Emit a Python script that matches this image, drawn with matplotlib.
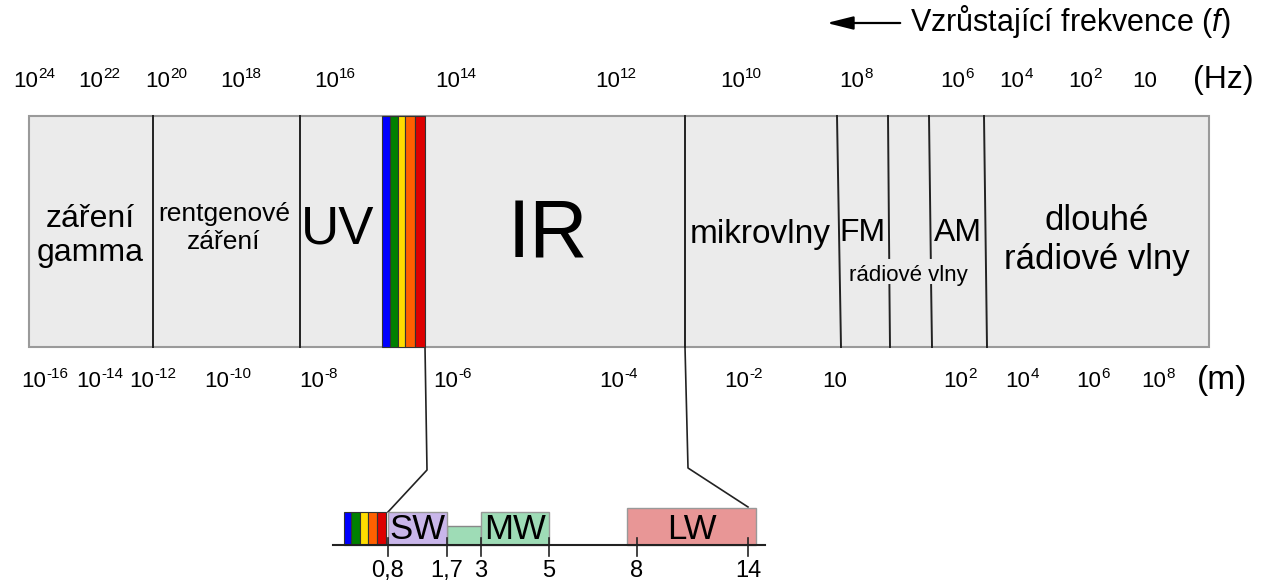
import matplotlib.pyplot as plt
from matplotlib.patches import Rectangle

plt.rcParams['font.family'] = ['Liberation Sans', 'DejaVu Sans']
plt.rcParams['mathtext.fontset'] = 'custom'
plt.rcParams['mathtext.rm'] = 'Liberation Sans'
plt.rcParams['mathtext.it'] = 'Liberation Sans:italic'

# frekvence (Hz) - exponenty a poloha popisku ve schematu
hz_exp = ['24', '22', '20', '18', '16', '14', '12', '10', '8', '6', '4', '2', '']
hz_x = [34, 99, 166, 241, 335, 456, 616, 741, 856, 957, 1016, 1085, 1145]

# vlnova delka (m)
m_exp = ['-16', '-14', '-12', '-10', '-8', '-6', '-4', '-2', '', '2', '4', '6', '8']
m_x = [45, 100, 153, 228, 318, 452, 618, 743, 835, 960, 1022, 1093, 1158]

# hranice oblasti (x nahore, x dole)
borders = [(153, 153), (300, 300), (685, 685), (837, 841), (888, 890), (929, 932), (984, 987)]
broken = [888, 929]   # cary prerusene popiskem "rádiové vlny"

# viditelne svetlo - barevne pruhy
rainbow_colors = ['#0000ff', '#008000', '#ffdd00', '#ff6000', '#dd0000']
rainbow_main = [382, 390, 398, 405, 415, 425]
rainbow_small = [344, 351, 360, 368, 377, 386]

# detail IR (um)
ir_ticks = ['0,8', '1,7', '3', '5', '8', '14']
ir_tick_x = [388, 447, 481, 549, 637, 748]
ir_bands = ['SW', 'MW', 'LW']
ir_band_x = [(388, 447), (481, 549), (627, 756)]
ir_band_colors = ['#c9b6ea', '#9edcb6', '#e89696']

BASE_FS = 16
EXP_FS = 11


def power_label(ax, x, y, exp):
    # "10" + exponent jako dva texty (spojovnik misto minus)
    px = 100 / 72
    w10 = 2 * 0.556 * BASE_FS * px
    wexp = sum(0.333 if ch == '-' else 0.556 for ch in exp) * EXP_FS * px
    left = x - (w10 + wexp) / 2
    ax.text(left, y, '10', fontsize=BASE_FS, ha='left', va='baseline')
    if exp:
        ax.text(left + w10 + 0.5, y - 9, exp, fontsize=EXP_FS, ha='left', va='baseline')


fig = plt.figure(figsize=(12.64, 5.83), dpi=100)
ax = fig.add_axes([0, 0, 1, 1])
ax.set_xlim(0, 1264)
ax.set_ylim(583, 0)
ax.axis('off')

top, bot = 116, 347

# hlavni pas
ax.add_patch(Rectangle((29, top), 1180, bot - top, fc='#ebebeb', ec='#9a9a9a', lw=1.5, zorder=1))

for xt, xb in borders:
    if xt in broken:
        ax.plot([xt, xt + (xb - xt) * 0.6], [top, 258], color='#222222', lw=1.4, zorder=2)
        ax.plot([xt + (xb - xt) * 0.7, xb], [285, bot], color='#222222', lw=1.4, zorder=2)
    else:
        ax.plot([xt, xb], [top, bot], color='#222222', lw=1.4, zorder=2)

for i, c in enumerate(rainbow_colors):
    ax.add_patch(Rectangle((rainbow_main[i], top), rainbow_main[i + 1] - rainbow_main[i], bot - top,
                           fc=c, ec='#333333', lw=0.8, zorder=3))

# popisky oblasti
ax.text(90, 236, 'záření\ngamma', fontsize=23, ha='center', va='center', linespacing=1.2)
ax.text(224, 228, 'rentgenové\nzáření', fontsize=19, ha='center', va='center', linespacing=1.25)
ax.text(338, 243, 'UV', fontsize=38, ha='center', va='baseline')
ax.text(548, 258, 'IR', fontsize=58, ha='center', va='baseline')
ax.text(760, 243, 'mikrovlny', fontsize=24, ha='center', va='baseline')
ax.text(862, 241, 'FM', fontsize=23, ha='center', va='baseline')
ax.text(958, 241, 'AM', fontsize=23, ha='center', va='baseline')
ax.text(908, 281, 'rádiové vlny', fontsize=16, ha='center', va='baseline')
ax.text(1097, 240, 'dlouhé\nrádiové vlny', fontsize=25, ha='center', va='center', linespacing=1.2)

# osa frekvence
for e, x in zip(hz_exp, hz_x):
    power_label(ax, x, 87, e)
ax.text(1223, 88, '(Hz)', fontsize=23, ha='center', va='baseline')

# osa vlnove delky
for e, x in zip(m_exp, m_x):
    power_label(ax, x, 387, e)
ax.text(1222, 389, '(m)', fontsize=24, ha='center', va='baseline')

# sipka
ax.annotate('', xy=(824, 23), xytext=(903, 23),
            arrowprops=dict(arrowstyle='-|>,head_length=1.6,head_width=0.4', color='black', lw=1.6))
ax.text(910, 31, r'Vzrůstající frekvence ($\mathit{f}$)', fontsize=22, ha='left', va='baseline')

# spojnice k detailu IR
ax.plot([425, 427, 388], [bot, 470, 512], color='#222222', lw=1.2, zorder=2)
ax.plot([685, 688, 748], [bot, 468, 507], color='#222222', lw=1.2, zorder=2)

# detail IR
base = 545
for i, c in enumerate(rainbow_colors):
    ax.add_patch(Rectangle((rainbow_small[i], 512), rainbow_small[i + 1] - rainbow_small[i], base - 512,
                           fc=c, ec='#333333', lw=0.8, zorder=3))
ax.add_patch(Rectangle((447, 526), 34, base - 526, fc=ir_band_colors[1], ec='#888888', lw=1, zorder=2))
for name, (x0, x1), c in zip(ir_bands, ir_band_x, ir_band_colors):
    y0 = 508 if name == 'LW' else 512
    ax.add_patch(Rectangle((x0, y0), x1 - x0, base - y0, fc=c, ec='#999999', lw=1, zorder=2))
    ax.text((x0 + x1) / 2, 539, name, fontsize=25, ha='center', va='baseline', zorder=4)
ax.plot([333, 765], [base, base], color='#222222', lw=1.5, zorder=4)

for lab, x in zip(ir_ticks, ir_tick_x):
    ax.plot([x, x], [538, 556], color='#222222', lw=1.2, zorder=4)
    ax.text(x, 577, lab, fontsize=17, ha='center', va='baseline')

plt.savefig('out.png', dpi=100)
plt.close()
